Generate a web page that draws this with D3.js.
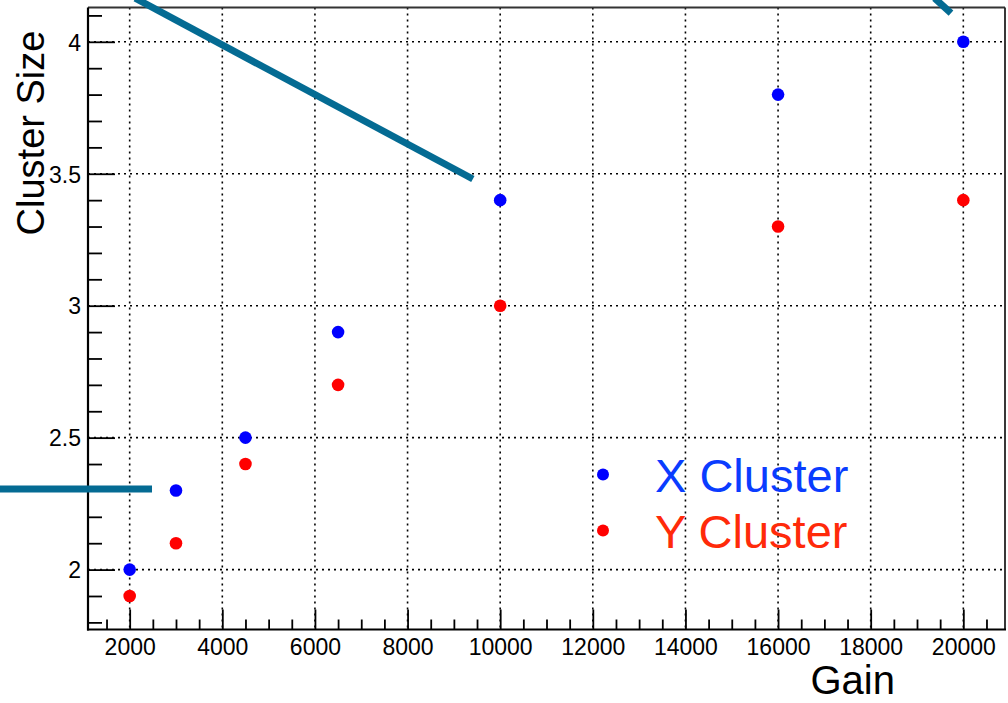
<!DOCTYPE html>
<html>
<head>
<meta charset="utf-8">
<script src="https://cdn.jsdelivr.net/npm/d3@7"></script>
<style>
  html, body { margin: 0; padding: 0; background: #fff; }
  svg { display: block; }
  text { font-family: "Liberation Sans", Arial, Helvetica, sans-serif; }
</style>
</head>
<body>
<svg id="chart" width="1008" height="703"></svg>
<script>
// ---- data ----
const gains = [2000, 3000, 4500, 6500, 10000, 16000, 20000];
const xClusterSize = [2.0, 2.3, 2.5, 2.9, 3.4, 3.8, 4.0];
const yClusterSize = [1.9, 2.1, 2.4, 2.7, 3.0, 3.3, 3.4];
const seriesNames = ["X Cluster", "Y Cluster"];
const xTickValues = [2000, 4000, 6000, 8000, 10000, 12000, 14000, 16000, 18000, 20000];
const yTickValues = [2, 2.5, 3, 3.5, 4];
const xTitle = "Gain";
const yTitle = "Cluster Size";
// overlay annotation strokes (in data coordinates: [gain, size])
const annoLine1 = [[2120, 4.165], [9410, 3.48]];
const annoLine2 = [[-900, 2.305], [2482, 2.305]];
const annoLine3 = [[19380, 4.165], [19734, 4.109]];

// ---- layout ----
const frame = { left: 88, right: 1005, top: 7.5, bottom: 629.5 };
const svg = d3.select("#chart");

const x = d3.scaleLinear().domain([1100, 20900]).range([frame.left, frame.right]);
const y = d3.scaleLinear().domain([1.773, 4.13]).range([frame.bottom, frame.top]);

// grid
const grid = svg.append("g");
grid.selectAll("line.gx").data(xTickValues).enter().append("line")
  .attr("x1", d => x(d)).attr("x2", d => x(d))
  .attr("y1", frame.top).attr("y2", frame.bottom)
  .attr("stroke", "#000").attr("stroke-width", 1.6).attr("stroke-dasharray", "2,4");
grid.selectAll("line.gy").data(yTickValues).enter().append("line")
  .attr("x1", frame.left).attr("x2", frame.right)
  .attr("y1", d => y(d)).attr("y2", d => y(d))
  .attr("stroke", "#000").attr("stroke-width", 1.6).attr("stroke-dasharray", "2,4");

// minor ticks
const xMinor = d3.range(1500, 20901, 500).filter(v => !xTickValues.includes(v));
const yMinor = d3.range(18, 42).map(v => v / 10).filter(v => !yTickValues.some(t => Math.abs(t - v) < 1e-9));

const xAxisMajor = d3.axisBottom(x).tickValues(xTickValues).tickSizeInner(-20).tickSizeOuter(0).tickPadding(0).tickFormat(d3.format("d"));
const xAxisMinor = d3.axisBottom(x).tickValues(xMinor).tickSizeInner(-10).tickSizeOuter(0).tickFormat("");
const yAxisMajor = d3.axisLeft(y).tickValues(yTickValues).tickSizeInner(-27).tickSizeOuter(0).tickPadding(0).tickFormat(d3.format("~g"));
const yAxisMinor = d3.axisLeft(y).tickValues(yMinor).tickSizeInner(-14).tickSizeOuter(0).tickFormat("");

function styleAxis(g) {
  g.select(".domain").remove();
  g.selectAll(".tick line").attr("stroke", "#000").attr("stroke-width", 1.8);
}

svg.append("g").attr("transform", `translate(0,${frame.bottom})`).call(xAxisMinor).call(styleAxis);
const gxMaj = svg.append("g").attr("transform", `translate(0,${frame.bottom})`).call(xAxisMajor).call(styleAxis);
gxMaj.attr("font-size", 23);
gxMaj.selectAll(".tick text").attr("y", 25.5).attr("dy", null)
  .attr("font-size", 23).attr("fill", "#000")
  .style("font-family", '"Liberation Sans", Arial, sans-serif');

svg.append("g").attr("transform", `translate(${frame.left},0)`).call(yAxisMinor).call(styleAxis);
const gyMaj = svg.append("g").attr("transform", `translate(${frame.left},0)`).call(yAxisMajor).call(styleAxis);
gyMaj.attr("font-size", 23);
gyMaj.selectAll(".tick text").attr("x", -7).attr("dy", "0.36em")
  .attr("font-size", 23).attr("fill", "#000")
  .style("font-family", '"Liberation Sans", Arial, sans-serif');

// frame
svg.append("line").attr("x1", frame.left).attr("x2", frame.right).attr("y1", frame.top).attr("y2", frame.top)
  .attr("stroke", "#333").attr("stroke-width", 1.8);
svg.append("line").attr("x1", frame.right).attr("x2", frame.right).attr("y1", frame.top).attr("y2", frame.bottom)
  .attr("stroke", "#222").attr("stroke-width", 1.8);
svg.append("line").attr("x1", frame.left).attr("x2", frame.left).attr("y1", frame.top).attr("y2", frame.bottom + 1)
  .attr("stroke", "#000").attr("stroke-width", 2.2);
svg.append("line").attr("x1", frame.left - 1).attr("x2", frame.right + 1).attr("y1", frame.bottom).attr("y2", frame.bottom)
  .attr("stroke", "#000").attr("stroke-width", 2.2);

// axis titles
svg.append("text").attr("x", 895).attr("y", 694).attr("text-anchor", "end")
  .attr("font-size", 40).attr("fill", "#000").text(xTitle);
svg.append("text").attr("transform", "translate(44,133) rotate(-90)").attr("text-anchor", "middle")
  .attr("font-size", 38).attr("fill", "#000").text(yTitle);

// data points
const series = [
  { name: seriesNames[0], values: xClusterSize, color: "#0000ff", text: "#0a3cff" },
  { name: seriesNames[1], values: yClusterSize, color: "#ff0000", text: "#ff2a0a" }
];
series.forEach(s => {
  svg.append("g").selectAll("circle").data(gains.map((g, i) => [g, s.values[i]])).enter().append("circle")
    .attr("cx", d => x(d[0])).attr("cy", d => y(d[1])).attr("r", 6.3).attr("fill", s.color);
});

// annotation strokes
const lineGen = d3.line().x(d => x(d[0])).y(d => y(d[1]));
[annoLine1, annoLine2, annoLine3].forEach(l => {
  svg.append("path").attr("d", lineGen(l)).attr("fill", "none")
    .attr("stroke", "#046b93").attr("stroke-width", 7).attr("stroke-linecap", "butt");
});

// legend
const legend = svg.append("g");
series.forEach((s, i) => {
  const cy = 474.5 + i * 56;
  legend.append("circle").attr("cx", 603).attr("cy", cy).attr("r", 6).attr("fill", s.color);
  legend.append("text").attr("x", 655).attr("y", cy + 17.5).attr("font-size", 47)
    .attr("fill", s.text).text(s.name);
});
</script>
</body>
</html>
